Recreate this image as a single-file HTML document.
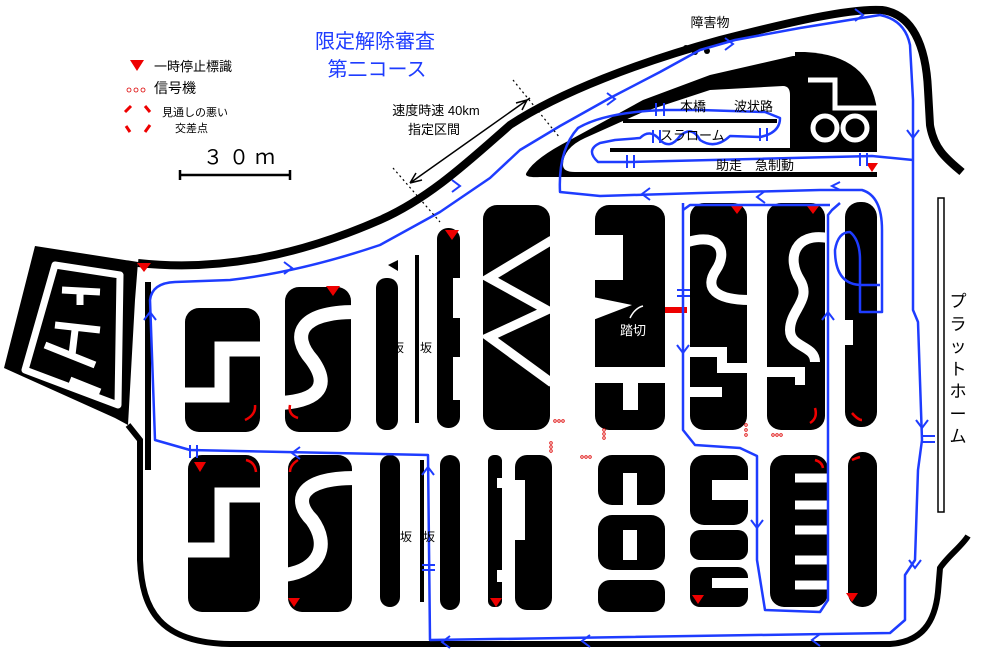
<!DOCTYPE html>
<html><head><meta charset="utf-8"><style>
html,body{margin:0;padding:0;background:#fff;}
svg{display:block;}
text{font-family:"Liberation Sans","Noto Sans CJK JP",sans-serif;}
</style></head><body>
<svg width="1000" height="667" viewBox="0 0 1000 667" xmlns="http://www.w3.org/2000/svg">
<rect width="1000" height="667" fill="#fff"/>
<!-- outer boundary -->
<path d="M138,263 C220,272 300,255 380,220 C430,198 470,160 510,125 C560,92 640,62 720,40 C790,22 850,8 882,10 C912,14 926,45 928,90 L930,125 C934,150 948,160 962,172" fill="none" stroke="#000" stroke-width="8"/>
<path d="M128,425 L140,440 L140,560 C142,610 160,643 230,644 L890,644 C922,642 935,622 938,592 L940,568 C948,556 962,546 968,536" fill="none" stroke="#000" stroke-width="6"/>
<!-- left FS block -->
<path d="M35,246 L138,262 L135,300 L128,425 L115,418 L4,368 Z" fill="#000"/>
<path d="M55,265 L120,275 L118,405 L25,370 Z" fill="none" stroke="#fff" stroke-width="7" stroke-linejoin="round"/>
<path d="M62,290 L100,292 M80,292 L80,305 M55,325 L100,330 M75,330 L72,355 M45,345 L95,365 M70,380 L100,392" stroke="#fff" stroke-width="7" fill="none"/>
<rect x="145" y="282" width="6" height="188" fill="#000"/>
<!-- inner top blob -->
<path d="M527,172 Q535,158 570,140 L643,100 L710,75 L793,56 L800,56 L800,177 L540,177 Q522,178 527,172 Z" fill="#000"/>
<path d="M805,52 Q870,55 877,110 L877,177 L795,177 L795,52 Z" fill="#000"/>
<path d="M563,165 Q563,148 585,138 L643,112 L710,90 L783,86 Q790,86 790,95 L790,152 L877,152 L877,172 L575,172 Q563,172 563,165 Z" fill="#fff"/>
<rect x="623" y="119" width="154" height="4" fill="#000"/>
<rect x="610" y="148" width="267" height="4" fill="#000"/>
<path d="M808,80 L835,80 L835,108 L877,108" fill="none" stroke="#fff" stroke-width="5"/>
<circle cx="825" cy="128" r="12" fill="none" stroke="#fff" stroke-width="5"/>
<circle cx="855" cy="128" r="12" fill="none" stroke="#fff" stroke-width="5"/>
<circle cx="686" cy="48" r="3" fill="#000"/><circle cx="695" cy="52" r="3" fill="#000"/><circle cx="709" cy="44" r="3" fill="#000"/><circle cx="707" cy="51" r="3" fill="#000"/>
<!-- top row blocks -->
<rect x="185" y="308" width="75" height="124" rx="14" fill="#000"/>
<path d="M264,349 L222,349 L222,395 L180,395" fill="none" stroke="#fff" stroke-width="15"/>
<rect x="285" y="287" width="66" height="145" rx="14" fill="#000"/>
<path d="M355,312 C300,312 290,335 312,360 C330,385 320,400 282,403" fill="none" stroke="#fff" stroke-width="14"/>
<rect x="376" y="278" width="22" height="152" rx="10" fill="#000"/>
<path d="M388,265 L398,260 L398,271 Z" fill="#000"/>
<rect x="415" y="255" width="4" height="168" fill="#000"/>
<rect x="437" y="228" width="23" height="200" rx="11" fill="#000"/>
<rect x="453" y="278" width="8" height="40" fill="#fff"/><rect x="453" y="357" width="8" height="43" fill="#fff"/>
<rect x="483" y="205" width="67" height="225" rx="14" fill="#000"/>
<path d="M552,240 L489,278 L547,310 L489,337 L552,383" fill="none" stroke="#fff" stroke-width="9"/>
<rect x="595" y="205" width="70" height="225" rx="14" fill="#000"/>
<rect x="593" y="235" width="30" height="45" fill="#fff"/>
<path d="M593,297 L632,305 L593,320 Z" fill="#fff"/>
<rect x="593" y="367" width="75" height="16" fill="#fff"/>
<rect x="623" y="383" width="15" height="27" fill="#fff"/>
<rect x="690" y="203" width="57" height="227" rx="14" fill="#000"/>
<path d="M688,242 C720,232 728,252 716,270 C704,288 715,300 750,300 M688,352 L722,352 L722,368 L750,368 M688,392 L722,392" fill="none" stroke="#fff" stroke-width="10"/>
<rect x="767" y="203" width="58" height="227" rx="14" fill="#000"/>
<path d="M828,238 C795,232 786,258 800,280 C812,300 790,310 790,330 C790,348 815,345 815,362 M765,372 L800,372 L800,385" fill="none" stroke="#fff" stroke-width="10"/>
<rect x="845" y="202" width="32" height="225" rx="15" fill="#000"/>
<rect x="843" y="320" width="10" height="25" fill="#fff"/>
<!-- bottom row blocks -->
<rect x="188" y="455" width="72" height="157" rx="14" fill="#000"/>
<path d="M262,495 L222,495 L222,550 L185,550" fill="none" stroke="#fff" stroke-width="15"/>
<rect x="288" y="455" width="64" height="157" rx="14" fill="#000"/>
<path d="M355,478 C300,478 292,500 312,520 C330,545 320,570 285,575" fill="none" stroke="#fff" stroke-width="14"/>
<rect x="380" y="455" width="20" height="152" rx="10" fill="#000"/>
<rect x="420" y="460" width="4" height="142" fill="#000"/>
<rect x="440" y="455" width="20" height="155" rx="10" fill="#000"/>
<rect x="488" y="455" width="14" height="152" rx="6" fill="#000"/>
<rect x="497" y="478" width="6" height="10" fill="#fff"/><rect x="497" y="570" width="6" height="12" fill="#fff"/>
<rect x="515" y="455" width="37" height="155" rx="12" fill="#000"/>
<rect x="513" y="480" width="12" height="60" fill="#fff"/>
<rect x="598" y="455" width="67" height="50" rx="14" fill="#000"/>
<rect x="623" y="473" width="14" height="34" fill="#fff"/>
<rect x="598" y="515" width="67" height="55" rx="14" fill="#000"/>
<rect x="623" y="530" width="14" height="30" fill="#fff"/>
<rect x="598" y="580" width="67" height="32" rx="12" fill="#000"/>
<rect x="690" y="455" width="58" height="70" rx="14" fill="#000"/>
<rect x="712" y="480" width="40" height="20" fill="#fff"/>
<rect x="690" y="530" width="58" height="30" rx="10" fill="#000"/>
<rect x="690" y="567" width="58" height="40" rx="10" fill="#000"/>
<rect x="712" y="578" width="40" height="10" fill="#fff"/>
<rect x="770" y="455" width="58" height="152" rx="14" fill="#000"/>
<path d="M828,478 L795,478 M828,505 L795,505 M828,530 L795,530 M828,560 L795,560 M828,585 L795,585" stroke="#fff" stroke-width="9"/>
<rect x="848" y="452" width="29" height="155" rx="14" fill="#000"/>
<!-- platform -->
<rect x="938" y="198" width="6" height="314" fill="#fff" stroke="#000" stroke-width="1.5"/>
<!-- crossing -->
<rect x="665" y="307" width="22" height="6" fill="#e00"/>
<!-- red triangles -->
<g fill="#e00">
<path d="M137,263 L151,263 L144,272 Z"/><path d="M445,230 L459,230 L452,240 Z"/>
<path d="M326,286 L340,286 L333,296 Z"/><path d="M731,206 L743,206 L737,214 Z"/>
<path d="M807,206 L819,206 L813,214 Z"/><path d="M866,163 L878,163 L872,172 Z"/>
<path d="M194,462 L206,462 L200,472 Z"/><path d="M288,598 L300,598 L294,607 Z"/>
<path d="M490,598 L502,598 L496,607 Z"/><path d="M692,595 L704,595 L698,604 Z"/>
<path d="M846,593 L858,593 L852,602 Z"/>
</g>
<g fill="none" stroke="#e00" stroke-width="2.5">
<path d="M255,405 Q256,415 245,420"/><path d="M298,418 Q288,415 290,405"/>
<path d="M815,408 Q818,418 810,423"/><path d="M852,413 Q858,420 862,420"/>
<path d="M246,460 Q255,462 256,472"/><path d="M298,460 Q290,465 290,472"/>
<path d="M815,460 Q822,462 823,468"/><path d="M852,460 Q856,458 860,457"/>
</g>
<!-- blue route -->
<g fill="none" stroke="#1e3cff" stroke-width="2.5" stroke-linejoin="round">
<path d="M155,440 L150,300 Q152,283 175,282 L230,280 Q300,272 380,245 L440,212 L490,178 L520,150 L560,126 L610,98 L660,72 L700,50 L735,40 L800,28 L880,15 Q905,20 910,45 L913,100 L913,310 L918,322 L922,440 L918,470 L915,560 L905,575 L905,620 L890,633 L430,640 L428,455 L190,450 Z"/>
<path d="M913,160 L872,156 L630,162 L598,162 Q585,150 600,143 L615,140 L640,138 Q650,128 660,140 Q670,150 680,136 Q692,125 700,140 Q715,150 730,136 L760,137 Q780,133 780,118 L765,112 L700,110 L665,110 Q605,112 578,128 Q558,150 560,192 L600,196 L700,193 L820,190 L862,190 Q882,196 882,230 L882,312 L860,312 L860,260 Q860,240 850,232 Q838,232 835,250 Q835,285 862,285 L880,285"/>
<path d="M683,203 L683,430 L695,445 L740,448 L757,456 L757,560 L765,610 L820,612 L828,600 L828,215 L832,210 L840,203"/>
<path d="M683,210 L690,205 L830,205"/>
</g>
<g fill="none" stroke="#1e3cff" stroke-width="2">
<path d="M284,262 L292,268 L284,274"/><path d="M452,180 L460,186 L452,192"/><path d="M607,93 L615,99 L607,105"/>
<path d="M725,38 L733,44 L725,50"/><path d="M855,9 L863,15 L855,21"/><path d="M907,130 L913,138 L919,130"/>
<path d="M916,420 L922,428 L928,420"/><path d="M909,560 L915,568 L921,560"/>
<path d="M820,634 L812,640 L820,646"/><path d="M590,635 L582,641 L590,647"/><path d="M450,636 L442,642 L450,648"/>
<path d="M422,475 L428,467 L434,475"/><path d="M300,447 L292,453 L300,459"/><path d="M144,320 L150,312 L156,320"/>
<path d="M650,188 L642,194 L650,200"/><path d="M765,191 L757,197 L765,203"/><path d="M677,345 L683,353 L689,345"/>
<path d="M751,520 L757,528 L763,520"/><path d="M822,320 L828,312 L834,320"/><path d="M840,190 L832,186 L840,182"/>
</g>
<g stroke="#1e3cff" stroke-width="2"><path d="M656,103 L656,116 M664,103 L664,116 M653,130 L653,143 M660,130 L660,143 M760,128 L760,141 M767,128 L767,141 M627,155 L627,168 M634,155 L634,168 M860,153 L860,166 M867,153 L867,166 M677,290 L690,290 M677,296 L690,296 M190,445 L190,458 M197,445 L197,458 M922,436 L935,436 M922,442 L935,442 M422,565 L435,565 M422,570 L435,570"/></g>
<!-- signal dots -->
<g fill="none" stroke="#d00" stroke-width="0.8">
<circle cx="555" cy="421" r="1.3"/><circle cx="559" cy="421" r="1.3"/><circle cx="563" cy="421" r="1.3"/>
<circle cx="582" cy="457" r="1.3"/><circle cx="586" cy="457" r="1.3"/><circle cx="590" cy="457" r="1.3"/>
<circle cx="604" cy="430" r="1.3"/><circle cx="604" cy="434" r="1.3"/><circle cx="604" cy="438" r="1.3"/>
<circle cx="746" cy="425" r="1.3"/><circle cx="746" cy="430" r="1.3"/><circle cx="746" cy="435" r="1.3"/>
<circle cx="773" cy="435" r="1.3"/><circle cx="777" cy="435" r="1.3"/><circle cx="781" cy="435" r="1.3"/>
<circle cx="551" cy="443" r="1.3"/><circle cx="551" cy="447" r="1.3"/><circle cx="551" cy="451" r="1.3"/>
<circle cx="129" cy="90" r="2"/><circle cx="136" cy="90" r="2"/><circle cx="143" cy="90" r="2"/>
</g>
<!-- legend -->
<path d="M130,60 L144,60 L137,71 Z" fill="#e00"/>
<g stroke="#e00" stroke-width="3" fill="none">
<path d="M125,112 L131,106"/><path d="M145,106 L150,112"/><path d="M126,126 L130,132"/><path d="M145,132 L150,125"/>
</g>
<text x="154" y="71" font-size="13">一時停止標識</text>
<text x="154" y="93" font-size="14">信号機</text>
<text x="162" y="116" font-size="11">見通しの悪い</text>
<text x="175" y="132" font-size="11">交差点</text>
<text x="203" y="164" font-size="20" letter-spacing="6">３０ｍ</text>
<path d="M180,175 L290,175 M180,170 L180,180 M290,170 L290,180" stroke="#000" stroke-width="2.5"/>
<text x="375" y="48" font-size="20" fill="#1e3cff" text-anchor="middle">限定解除審査</text>
<text x="377" y="76" font-size="20" fill="#1e3cff" text-anchor="middle">第二コース</text>
<text x="436" y="115" font-size="13" text-anchor="middle">速度時速 40km</text>
<text x="434" y="134" font-size="13" text-anchor="middle">指定区間</text>
<path d="M530,98 L410,183 M410,183 L422,180 M410,183 L416,173 M527,100 L516,103 M527,100 L522,110" stroke="#000" stroke-width="1.5" fill="none"/>
<path d="M393,168 L440,222 M513,80 L560,138" stroke="#000" stroke-width="1.2" stroke-dasharray="2,3"/>
<text x="710" y="27" font-size="13" text-anchor="middle">障害物</text>
<text x="680" y="111" font-size="13">本橋</text>
<text x="734" y="111" font-size="13">波状路</text>
<text x="660" y="140" font-size="13">スラローム</text>
<text x="716" y="170" font-size="13">助走　急制動</text>
<text x="620" y="335" font-size="13" fill="#fff">踏切</text>
<path d="M630,318 Q635,308 643,306" stroke="#fff" stroke-width="1.5" fill="none"/>
<text x="392" y="352" font-size="12">坂</text><text x="420" y="352" font-size="12">坂</text>
<text x="400" y="541" font-size="12">坂</text><text x="423" y="541" font-size="12">坂</text>
<g font-size="17" text-anchor="middle">
<text x="958" y="307">プ</text><text x="958" y="330">ラ</text><text x="958" y="352">ッ</text><text x="958" y="375">ト</text><text x="958" y="397">ホ</text><text x="958" y="420">ー</text><text x="958" y="442">ム</text>
</g>
</svg>
</body></html>
